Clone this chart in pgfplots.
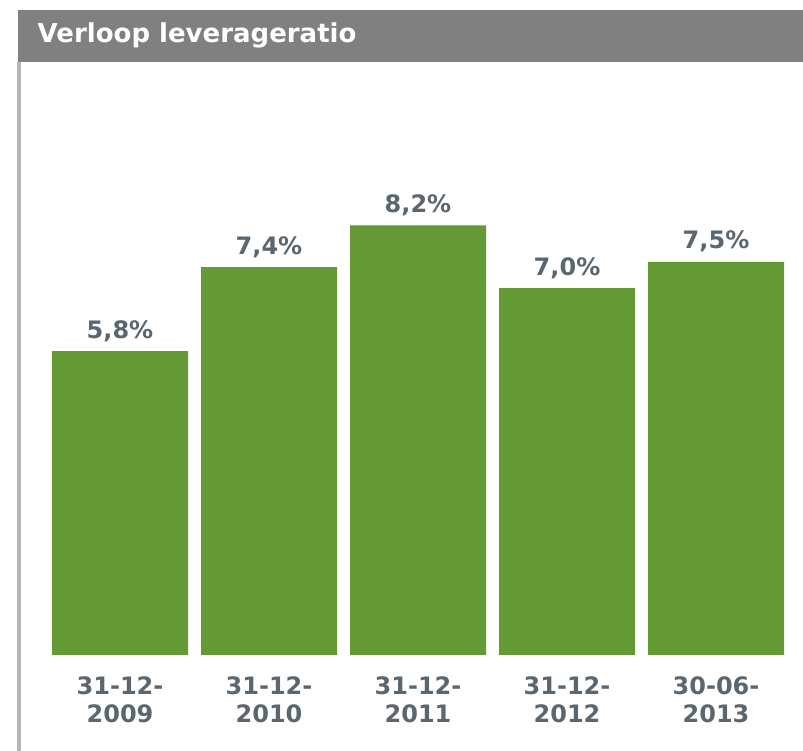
\documentclass[border=0pt]{standalone}
\usepackage{fontspec}
\setmainfont{DejaVu Sans}
\usepackage{pgfplots}
\pgfplotsset{compat=1.18}
\definecolor{barGreen}{RGB}{101,153,51}
\definecolor{titleGrey}{RGB}{128,128,128}
\definecolor{lblGrey}{RGB}{91,103,112}
\definecolor{lineGrey}{RGB}{178,183,188}
\begin{document}
\begin{tikzpicture}[x=1pt,y=1pt]
\useasboundingbox (0,0) rectangle (803,751);
\fill[white] (0,0) rectangle (803,751);
\fill[titleGrey] (18,689) rectangle (803,741);
\fill[lineGrey] (17,0) rectangle (21,689);
\node[anchor=base west, inner sep=0pt, text=white, font=\fontsize{26}{30}\selectfont\bfseries] at (37.5,708) {Verloop leverageratio};
\begin{axis}[
  at={(45.5pt,96pt)}, anchor=south west,
  scale only axis, width=745pt, height=593pt,
  xmin=-0.5, xmax=4.5, ymin=0, ymax=11.317,
  axis line style={draw=none},
  major tick length=0pt,
  ytick=\empty,
  xtick=data,
  xticklabels={{31-12-\\2009},{31-12-\\2010},{31-12-\\2011},{31-12-\\2012},{30-06-\\2013}},
  xticklabel style={align=center, anchor=north, inner sep=0pt, yshift=-21pt, text=lblGrey, font=\fontsize{24}{28}\selectfont\bfseries},
  ybar, bar width=136pt,
  clip=false,
  nodes near coords={\pgfmathprintnumber[fixed, fixed zerofill, precision=1, use comma, assume math mode=true]{\pgfplotspointmeta}\%},
  every node near coord/.append style={anchor=base, inner sep=0pt, yshift=13pt, text=lblGrey, font=\fontsize{24}{28}\selectfont\bfseries},
]
\addplot[fill=barGreen, draw=none] coordinates {(0,5.8) (1,7.4) (2,8.2) (3,7.0) (4,7.5)};
\end{axis}
\end{tikzpicture}
\end{document}
